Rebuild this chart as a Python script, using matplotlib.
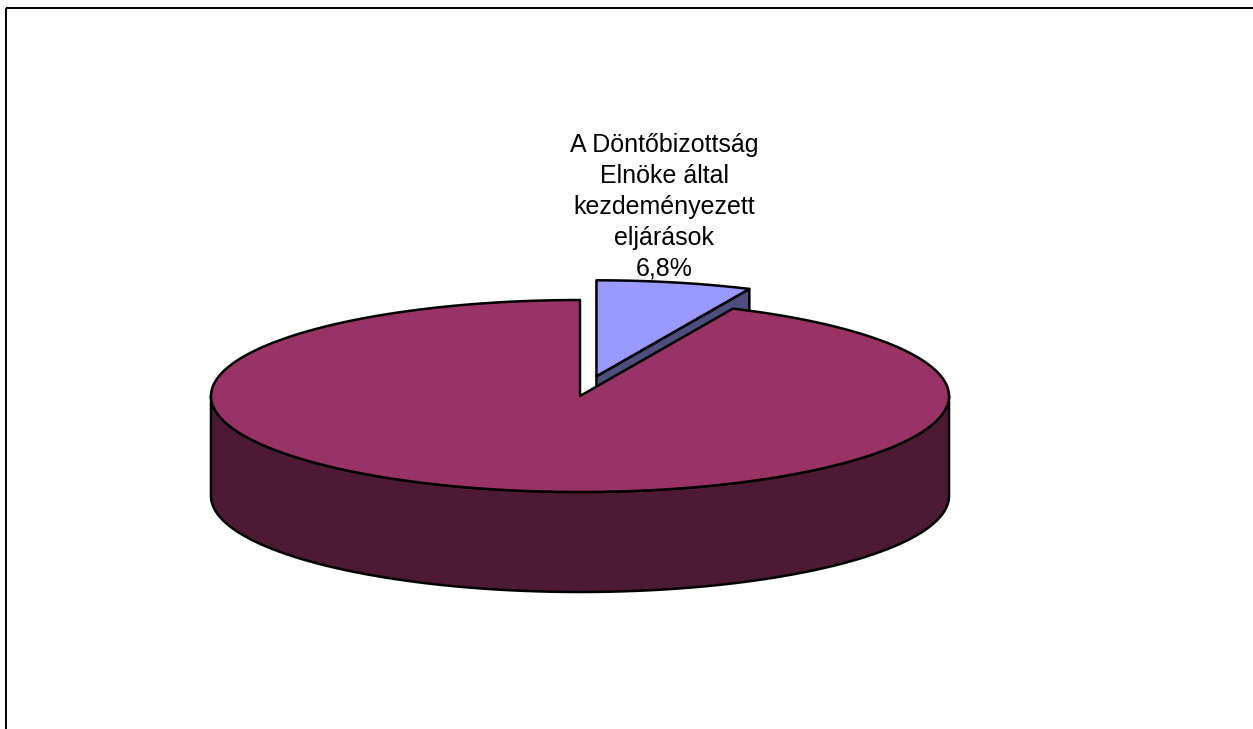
import numpy as np
import matplotlib
matplotlib.use("Agg")
import matplotlib.pyplot as plt
from matplotlib.patches import Polygon

plt.rcParams['font.family'] = ['Liberation Sans', 'DejaVu Sans']

# Slice data (percent shares), drawn clockwise from 12 o'clock
labels = ["A Döntőbizottság\nElnöke által\nkezdeményezett\neljárások", ""]
values = [6.8, 93.2]
top_colors = ["#9999FF", "#993366"]
side_colors = ["#4D4D80", "#4D1A33"]
explode = [0.21, 0.0]
show_label = [True, False]

W, H = 1253, 729
fig = plt.figure(figsize=(W / 100, H / 100), dpi=100)
ax = fig.add_axes([0, 0, 1, 1])
ax.set_xlim(0, W)
ax.set_ylim(H, 0)
ax.axis("off")

# Frame (top and left edges)
ax.plot([5.5, 5.5], [H, 7.5], color="black", lw=1.4, solid_capstyle="butt")
ax.plot([5.5, W], [7.5, 7.5], color="black", lw=1.4, solid_capstyle="butt")

# 3D pie geometry
cx, cy = 580.0, 396.0
a, b = 369.0, 96.0
depth = 100.0
lw = 1.8


def pt(theta, ox, oy, dz=0.0):
    return (ox + a * np.sin(theta), oy - b * np.cos(theta) + dz)


total = float(sum(values))
bounds = np.concatenate([[0.0], np.cumsum(values) / total * 2 * np.pi])

# Draw back slices first so the front ones cover them
order = sorted(range(len(values)),
               key=lambda i: -np.cos((bounds[i] + bounds[i + 1]) / 2))

for i in order:
    t0, t1 = bounds[i], bounds[i + 1]
    mid = (t0 + t1) / 2
    ox = cx + explode[i] * a * np.sin(mid)
    oy = cy - explode[i] * b * np.cos(mid)
    ts = np.linspace(t0, t1, 400)

    # radial faces that turn toward the viewer
    for tt, sign in ((t1, 1), (t0, -1)):
        nz = -sign * np.sin(tt)
        if nz < -1e-6 and abs(t1 - t0) < 2 * np.pi - 1e-6:
            p_out = pt(tt, ox, oy)
            face = [(ox, oy), p_out, (p_out[0], p_out[1] + depth), (ox, oy + depth)]
            ax.add_patch(Polygon(face, closed=True, facecolor=side_colors[i],
                                 edgecolor="black", lw=lw, joinstyle="round"))

    # outer curved side, only the front-facing half
    lo = max(t0, np.pi / 2)
    hi = min(t1, 3 * np.pi / 2)
    if hi > lo:
        tv = np.linspace(lo, hi, 400)
        upper = [pt(t, ox, oy) for t in tv]
        lower = [pt(t, ox, oy, depth) for t in tv[::-1]]
        ax.add_patch(Polygon(upper + lower, closed=True, facecolor=side_colors[i],
                             edgecolor="black", lw=lw, joinstyle="round"))

    # top face
    top = [(ox, oy)] + [pt(t, ox, oy) for t in ts]
    ax.add_patch(Polygon(top, closed=True, facecolor=top_colors[i],
                         edgecolor="black", lw=lw, joinstyle="round"))

    if show_label[i]:
        ax.text(664, 207, f"{labels[i]}\n{values[i]:.1f}%".replace(".", ","),
                ha="center", va="center", fontsize=18, linespacing=1.36,
                color="black")

fig.savefig("out.png", dpi=100, facecolor="white")
